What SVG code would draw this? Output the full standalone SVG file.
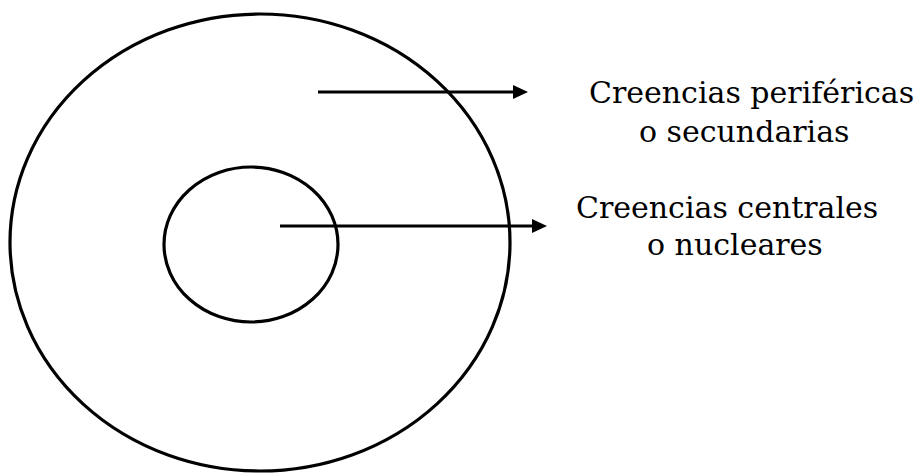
<svg xmlns="http://www.w3.org/2000/svg" width="917" height="474" viewBox="0 0 917 474">
<style>
.shape{fill:none;stroke:#000;stroke-width:3.2}
.conn{stroke:#000;stroke-width:3.2;fill:none}
.lbl{font-family:"DejaVu Serif","Liberation Serif",serif;font-size:30px;fill:#000}
</style>
<defs>
<marker id="ah" markerWidth="15" markerHeight="14" refX="0" refY="7" orient="auto" markerUnits="userSpaceOnUse">
<path d="M0,0 L15,7 L0,14 Z" fill="#000"/>
</marker>
</defs>
<rect width="917" height="474" fill="#fff"/>
<g id="outer"><ellipse class="shape" cx="260" cy="242.5" rx="250" ry="228.5"/></g>
<g id="inner"><ellipse class="shape" cx="251" cy="244.5" rx="87" ry="77.5"/></g>
<g id="connectors">
<line class="conn" x1="318" y1="92" x2="513" y2="92" marker-end="url(#ah)"/>
<line class="conn" x1="280" y1="226" x2="532" y2="226" marker-end="url(#ah)"/>
</g>
<g id="label-perifericas">
<text class="lbl" x="589" y="103">Creencias periféricas</text>
<text class="lbl" x="639" y="142">o secundarias</text>
</g>
<g id="label-centrales">
<text class="lbl" x="576" y="218">Creencias centrales</text>
<text class="lbl" x="647" y="255">o nucleares</text>
</g>
</svg>
